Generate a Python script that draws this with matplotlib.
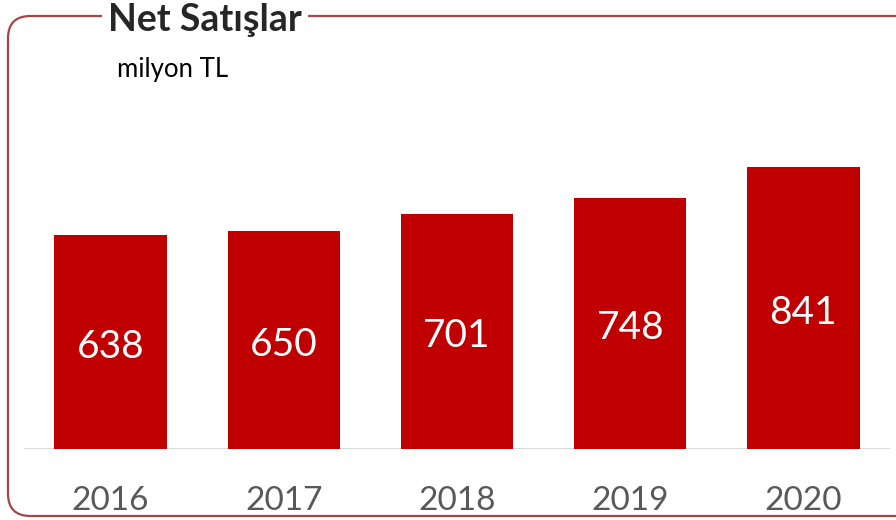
import matplotlib.pyplot as plt
from matplotlib.patches import FancyBboxPatch

# Net sales data (million TL)
years = ['2016', '2017', '2018', '2019', '2020']
sales = [638, 650, 701, 748, 841]

bar_color = '#C00000'
frame_color = '#A64545'

plt.rcParams['font.family'] = ['Lato', 'DejaVu Sans']

W, H = 896, 520
fig = plt.figure(figsize=(W / 100, H / 100), dpi=100)

# rounded frame around the chart (right edge runs off the picture)
frame = FancyBboxPatch((8 / W, 4 / H), (930 - 8) / W, (504 - 4) / H,
                       boxstyle='round,pad=0,rounding_size=0.025',
                       transform=fig.transFigure, fill=False,
                       edgecolor=frame_color, linewidth=1.6,
                       mutation_aspect=W / H)
fig.patches.append(frame)

ax = fig.add_axes([24 / W, 71 / H, (890 - 24) / W, 349 / H])
x = range(len(years))
bars = ax.bar(x, sales, width=0.65, color=bar_color, zorder=2)
ax.set_ylim(0, 1040)
ax.set_xlim(-0.5, len(years) - 0.5)
ax.axhline(0, color='#D9D9D9', linewidth=1.5, zorder=1)

for xi, v in zip(x, sales):
    ax.text(xi, v / 2 - 14, str(v), ha='center', va='center',
            color='white', fontsize=28, zorder=3)

ax.set_xticks(list(x))
ax.set_xticklabels(years, fontsize=24, color='#595959')
ax.tick_params(axis='x', length=0, pad=27)
ax.set_yticks([])
for s in ax.spines.values():
    s.set_visible(False)
ax.patch.set_alpha(0)

# title over the frame line
fig.text(108 / W, 1 - 20 / H, 'Net Satışlar', fontsize=27, fontweight='bold',
         color='#262626', ha='left', va='center',
         bbox=dict(facecolor='white', edgecolor='none', pad=4))
fig.text(117 / W, 1 - 69 / H, 'milyon TL', fontsize=18.5, color='black',
         ha='left', va='center')

fig.savefig('out.png', dpi=100)
